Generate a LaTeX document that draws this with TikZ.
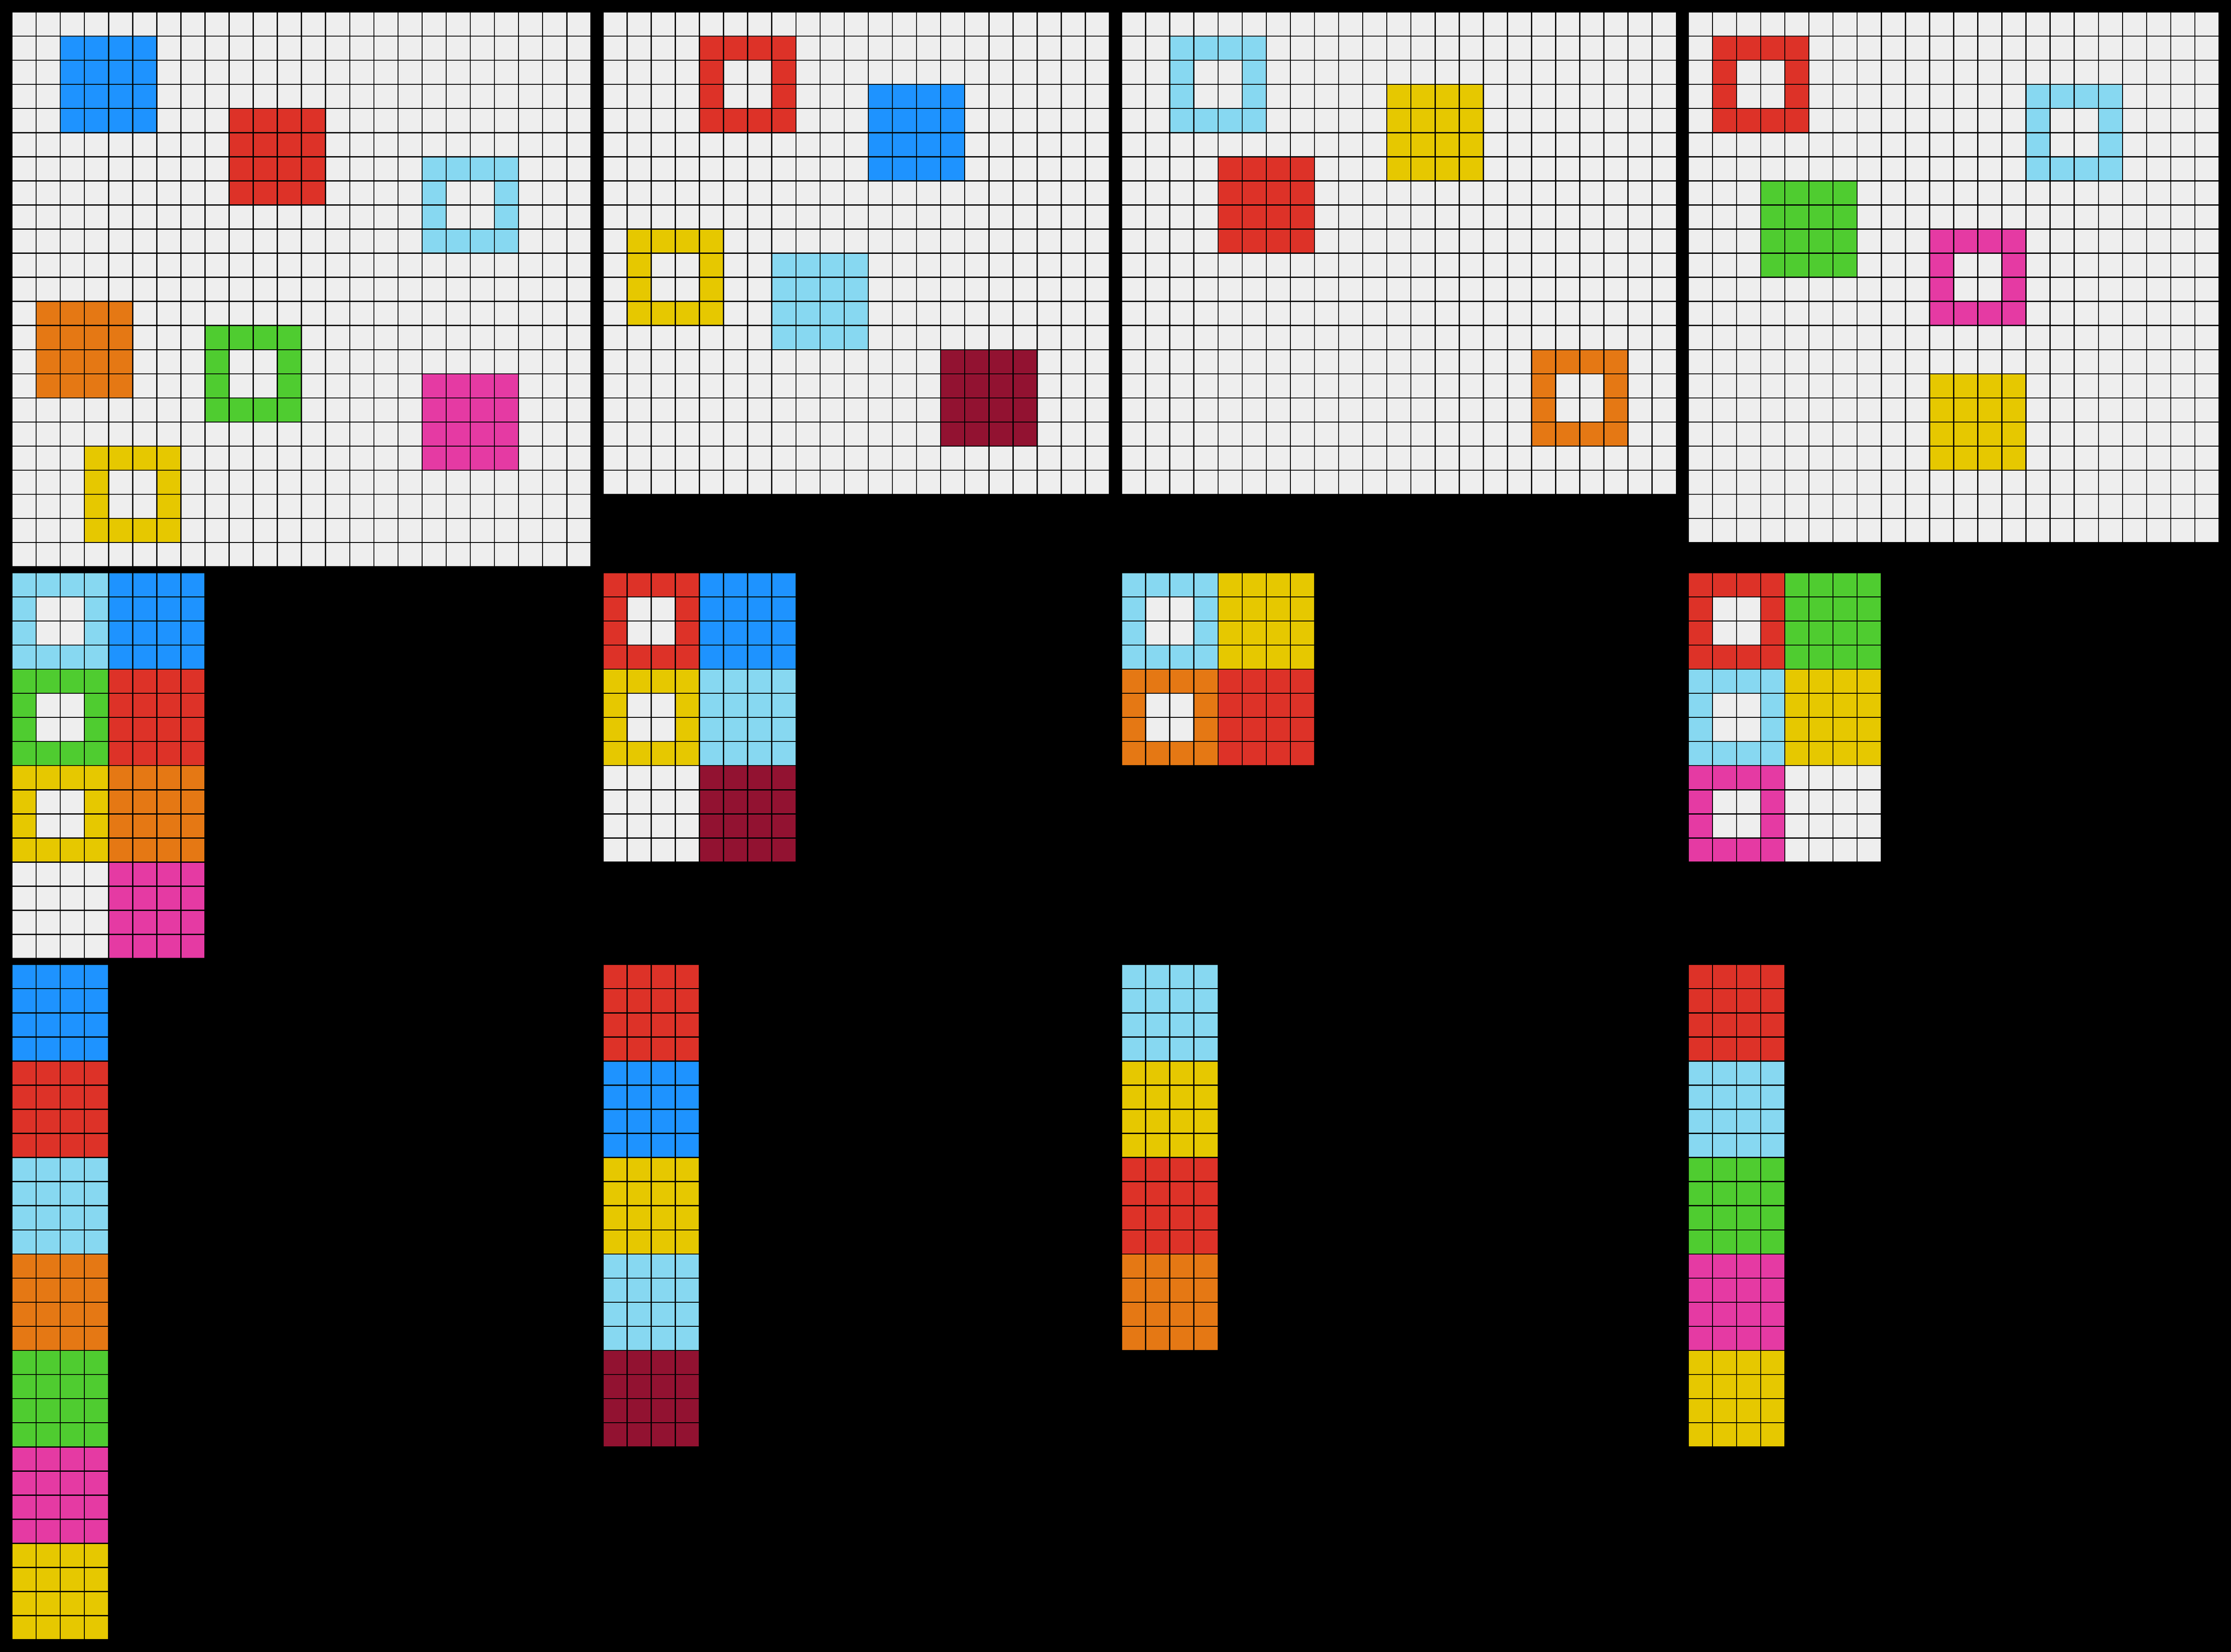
\documentclass[tikz,border=0pt]{standalone}
\definecolor{bgc}{HTML}{EEEEEE}
\definecolor{cblue}{HTML}{1E93FF}
\definecolor{cred}{HTML}{DD3228}
\definecolor{cgreen}{HTML}{4FCC30}
\definecolor{cyellow}{HTML}{E6C800}
\definecolor{corange}{HTML}{E57814}
\definecolor{cpink}{HTML}{E53AA3}
\definecolor{clblue}{HTML}{87D8F1}
\definecolor{cmaroon}{HTML}{921231}
\newcommand\arcbg[2]{\fill[bgc] (0,0) rectangle (#1,-#2);}
\newcommand\arcsolid[3]{\fill[#3] (#1,-#2) rectangle ++(4,-4);}
\newcommand\archollow[3]{\fill[#3] (#1,-#2) rectangle ++(4,-4); \fill[bgc] ({#1+1},{-#2-1}) rectangle ++(2,-2);}
\newcommand\arclines[2]{%
  \foreach \i in {0,...,#1} {\draw[gl] (\i,0) -- (\i,-#2);}
  \foreach \j in {0,...,#2} {\draw[gl] (0,-\j) -- (#1,-\j);}}
\begin{document}
\begin{tikzpicture}[x=0.25cm,y=0.25cm,gl/.style={line width=0.33pt,black}]
\fill[black] (0,0) rectangle (92.5,-68.5);
\useasboundingbox (0,0) rectangle (92.5,-68.5);
% ---------- Pair 1 ----------
\begin{scope}[shift={(0.5,-0.5)}]
  \arcbg{24}{23}
  \arcsolid{2}{1}{cblue}
  \arcsolid{9}{4}{cred}
  \archollow{17}{6}{clblue}
  \arcsolid{1}{12}{corange}
  \archollow{8}{13}{cgreen}
  \arcsolid{17}{15}{cpink}
  \archollow{3}{18}{cyellow}
  \arclines{24}{23}
\end{scope}
\begin{scope}[shift={(0.5,-23.75)}]
  \arcbg{8}{16}
  \archollow{0}{0}{clblue}
  \arcsolid{4}{0}{cblue}
  \archollow{0}{4}{cgreen}
  \arcsolid{4}{4}{cred}
  \archollow{0}{8}{cyellow}
  \arcsolid{4}{8}{corange}
  \arcsolid{4}{12}{cpink}
  \arclines{8}{16}
\end{scope}
\begin{scope}[shift={(0.5,-40)}]
  \arcsolid{0}{0}{cblue}
  \arcsolid{0}{4}{cred}
  \arcsolid{0}{8}{clblue}
  \arcsolid{0}{12}{corange}
  \arcsolid{0}{16}{cgreen}
  \arcsolid{0}{20}{cpink}
  \arcsolid{0}{24}{cyellow}
  \arclines{4}{28}
\end{scope}
% ---------- Pair 2 ----------
\begin{scope}[shift={(25,-0.5)}]
  \arcbg{21}{20}
  \archollow{4}{1}{cred}
  \arcsolid{11}{3}{cblue}
  \archollow{1}{9}{cyellow}
  \arcsolid{7}{10}{clblue}
  \arcsolid{14}{14}{cmaroon}
  \arclines{21}{20}
\end{scope}
\begin{scope}[shift={(25,-23.75)}]
  \arcbg{8}{12}
  \archollow{0}{0}{cred}
  \arcsolid{4}{0}{cblue}
  \archollow{0}{4}{cyellow}
  \arcsolid{4}{4}{clblue}
  \arcsolid{4}{8}{cmaroon}
  \arclines{8}{12}
\end{scope}
\begin{scope}[shift={(25,-40)}]
  \arcsolid{0}{0}{cred}
  \arcsolid{0}{4}{cblue}
  \arcsolid{0}{8}{cyellow}
  \arcsolid{0}{12}{clblue}
  \arcsolid{0}{16}{cmaroon}
  \arclines{4}{20}
\end{scope}
% ---------- Pair 3 ----------
\begin{scope}[shift={(46.5,-0.5)}]
  \arcbg{23}{20}
  \archollow{2}{1}{clblue}
  \arcsolid{11}{3}{cyellow}
  \arcsolid{4}{6}{cred}
  \archollow{17}{14}{corange}
  \arclines{23}{20}
\end{scope}
\begin{scope}[shift={(46.5,-23.75)}]
  \arcbg{8}{8}
  \archollow{0}{0}{clblue}
  \arcsolid{4}{0}{cyellow}
  \archollow{0}{4}{corange}
  \arcsolid{4}{4}{cred}
  \arclines{8}{8}
\end{scope}
\begin{scope}[shift={(46.5,-40)}]
  \arcsolid{0}{0}{clblue}
  \arcsolid{0}{4}{cyellow}
  \arcsolid{0}{8}{cred}
  \arcsolid{0}{12}{corange}
  \arclines{4}{16}
\end{scope}
% ---------- Pair 4 ----------
\begin{scope}[shift={(70,-0.5)}]
  \arcbg{22}{22}
  \archollow{1}{1}{cred}
  \archollow{14}{3}{clblue}
  \arcsolid{3}{7}{cgreen}
  \archollow{10}{9}{cpink}
  \arcsolid{10}{15}{cyellow}
  \arclines{22}{22}
\end{scope}
\begin{scope}[shift={(70,-23.75)}]
  \arcbg{8}{12}
  \archollow{0}{0}{cred}
  \arcsolid{4}{0}{cgreen}
  \archollow{0}{4}{clblue}
  \arcsolid{4}{4}{cyellow}
  \archollow{0}{8}{cpink}
  \arclines{8}{12}
\end{scope}
\begin{scope}[shift={(70,-40)}]
  \arcsolid{0}{0}{cred}
  \arcsolid{0}{4}{clblue}
  \arcsolid{0}{8}{cgreen}
  \arcsolid{0}{12}{cpink}
  \arcsolid{0}{16}{cyellow}
  \arclines{4}{20}
\end{scope}
\end{tikzpicture}
\end{document}
